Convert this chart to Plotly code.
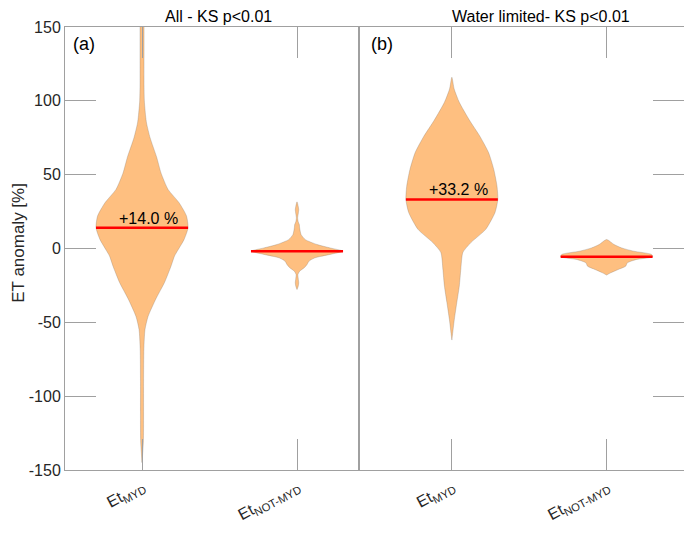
import numpy as np
import plotly.graph_objects as go

# -------------------------------------------------------------------
# DATA
# -------------------------------------------------------------------
TICK_LABELS = ["Et<sub>MYD</sub>", "Et<sub>NOT-MYD</sub>"]
Y_TICKS = [-150, -100, -50, 0, 50, 100, 150]
Y_TICK_TEXT = ["-150", "-100", "-50", "0", "50", "100", "150"]
PANEL_TITLES = ["All - KS p&lt;0.01", "Water limited- KS p&lt;0.01"]

# violin outlines: anomaly level [%] and half width (category units)
all_myd_y = [160, 150, 130, 110, 100, 90, 85, 75, 62, 51, 40, 31, 22, 14, 6,
             -1, -5, -12, -23, -34, -46, -55, -68, -90, -130, -145]
all_myd_hw = [0.013, 0.013, 0.013, 0.013, 0.015, 0.023, 0.029, 0.052, 0.094,
              0.123, 0.168, 0.239, 0.287, 0.297, 0.271, 0.232, 0.210, 0.187,
              0.145, 0.090, 0.039, 0.019, 0.012, 0.010, 0.009, 0.0]

all_not_y = [31.6, 28.5, 26.4, 23.5, 20.8, 18, 16.2, 14, 9.5, 6, 2.7, 0.4,
             -1.8, -4, -6.3, -8.6, -10.8, -13, -15.4, -17.6, -20.3, -23.2,
             -25.5, -27.8]
all_not_hw = [0.0, 0.008, 0.011, 0.008, 0.004, 0.008, 0.015, 0.017, 0.026,
              0.054, 0.129, 0.213, 0.297, 0.213, 0.116, 0.077, 0.065, 0.047,
              0.017, 0.006, 0.008, 0.011, 0.008, 0.0]

wl_myd_y = [116, 108, 99, 87, 76, 65, 53.5, 42, 33.2, 24.4, 13, 4, -2.7, -14,
            -25.5, -36.6, -48, -59.5, -62]
wl_myd_hw = [0.0, 0.015, 0.048, 0.113, 0.181, 0.237, 0.271, 0.292, 0.297,
             0.279, 0.219, 0.123, 0.071, 0.058, 0.048, 0.032, 0.016, 0.003, 0.0]

wl_not_y = [6.1, 2.7, 0.4, -1.8, -4, -5.6, -7.4, -9.7, -12, -14.2, -16.5, -18]
wl_not_hw = [0.0, 0.048, 0.097, 0.174, 0.290, 0.297, 0.194, 0.134, 0.123,
             0.075, 0.026, 0.0]

medians = [14.0, -1.8, 33.2, -5.6]
median_labels = ["+14.0 %", "", "+33.2 %", ""]

# -------------------------------------------------------------------
# STYLE
# -------------------------------------------------------------------
FONT = "Liberation Sans, Arial, Helvetica, sans-serif"
FILL = "#FEBF80"
EDGE = "rgba(120,110,100,0.55)"
AXIS = "#A0A0A0"
TXT = "#262626"
SPLIT = (359 - 65) / 619  # where panel (a) ends in paper units

violins = [
    (all_myd_y, all_myd_hw, 1, "x", "y"),
    (all_not_y, all_not_hw, 2, "x", "y"),
    (wl_myd_y, wl_myd_hw, 1, "x2", "y2"),
    (wl_not_y, wl_not_hw, 2, "x2", "y2"),
]

fig = go.Figure()
annotations = []

for i, (ys, hws, pos, xa, ya) in enumerate(violins):
    ys = np.array(ys, dtype=float)
    hws = np.array(hws, dtype=float)
    xs = np.concatenate([pos + hws, (pos - hws)[::-1]])
    yy = np.concatenate([ys, ys[::-1]])
    fig.add_trace(
        go.Scatter(
            x=xs, y=yy, mode="lines", fill="toself", fillcolor=FILL,
            line=dict(color=EDGE, width=0.5, shape="spline", smoothing=0.6),
            xaxis=xa, yaxis=ya, showlegend=False, hoverinfo="skip",
        )
    )
    # median line across the violin
    med = medians[i]
    w = np.interp(med, ys[::-1], hws[::-1])
    fig.add_trace(
        go.Scatter(
            x=[pos - w, pos + w], y=[med, med], mode="lines",
            line=dict(color="#FF0000", width=2.5),
            xaxis=xa, yaxis=ya, showlegend=False, hoverinfo="skip",
        )
    )
    if median_labels[i]:
        annotations.append(dict(
            x=pos + 0.04, y=med, xref=xa, yref=ya, text=median_labels[i],
            showarrow=False, xanchor="center", yanchor="bottom", yshift=-1,
            font=dict(size=16, color="black", family=FONT),
        ))

# panel titles and letters
for j, (title, dom) in enumerate(zip(PANEL_TITLES, ["x", "x2"])):
    annotations.append(dict(
        x=[0.248, 0.7695][j], y=1, xref="paper", yref="paper",
        text=title, showarrow=False, xanchor="center", yanchor="bottom",
        yshift=0, font=dict(size=16, color="black", family=FONT),
    ))
    annotations.append(dict(
        x=[0.02, 0.03][j], y=1, xref=dom + " domain", yref="y domain",
        text=["(a)", "(b)"][j], showarrow=False, xanchor="left",
        yanchor="top", yshift=-5,
        font=dict(size=18, color="black", family=FONT),
    ))

annotations.append(dict(
    x=-0.075, y=0.512, xref="paper", yref="paper", text="ET anomaly [%]",
    textangle=-90, showarrow=False, xanchor="center", yanchor="middle",
    font=dict(size=17, color=TXT, family=FONT),
))

# -------------------------------------------------------------------
# LAYOUT
# -------------------------------------------------------------------
xcommon = dict(
    tickvals=[1, 2], ticktext=TICK_LABELS, tickangle=-28, ticks="inside",
    ticklen=31, tickcolor=AXIS, tickwidth=1, showline=True, linecolor=AXIS,
    linewidth=1, mirror="ticks", showgrid=False, zeroline=False,
    automargin=False, tickfont=dict(size=16, color=TXT, family=FONT),
)
ycommon = dict(
    range=[-150, 150], tickvals=Y_TICKS, ticktext=Y_TICK_TEXT,
    ticks="inside", ticklen=31, tickcolor=AXIS, tickwidth=1, showline=True,
    linecolor=AXIS, linewidth=1, mirror=True, showgrid=False, zeroline=False,
    automargin=False, tickfont=dict(size=16, color=TXT, family=FONT),
)

# the page body adds an 8px offset, so the figure is 8px smaller
fig.update_layout(
    width=684,
    height=525,
    margin=dict(l=57, r=8, t=19, b=63, autoexpand=False),
    xaxis=dict(domain=[0, SPLIT], range=[0.503, 2.4], anchor="y", **xcommon),
    xaxis2=dict(domain=[SPLIT, 1], range=[0.4, 2.5], anchor="y2", **xcommon),
    yaxis=dict(anchor="x", **ycommon),
    yaxis2=dict(anchor="x2", side="right", showticklabels=False, **ycommon),
    annotations=annotations,
    plot_bgcolor="white",
    paper_bgcolor="white",
    font=dict(family=FONT, color=TXT),
)

fig.write_html("out.html")
